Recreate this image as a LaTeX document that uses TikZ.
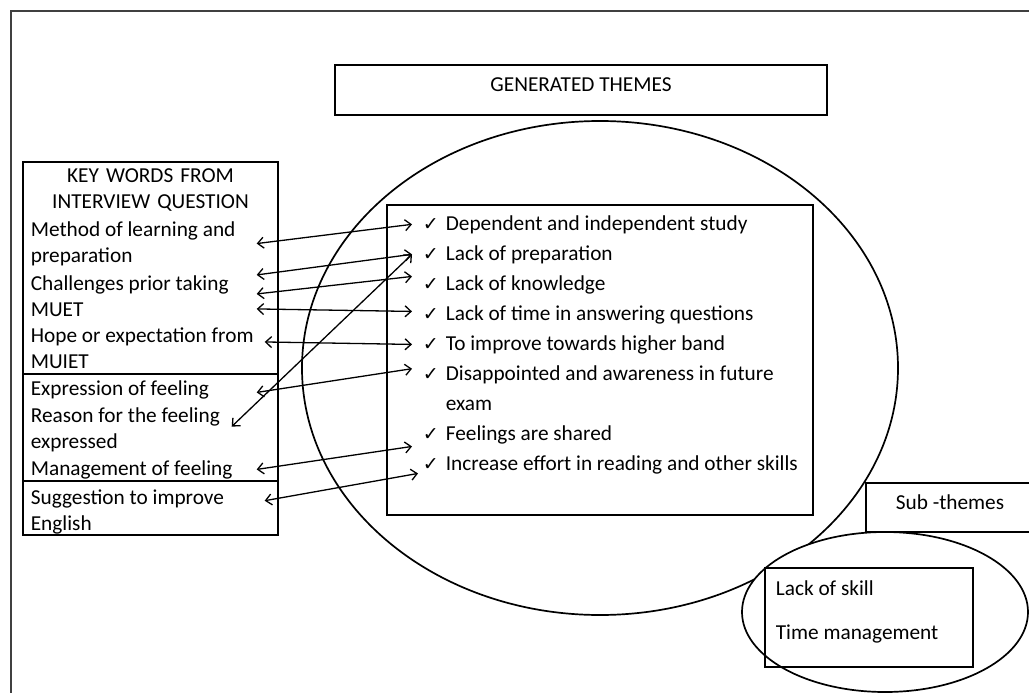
\documentclass[tikz,border=0pt]{standalone}
\usepackage{fontspec}
\setmainfont{Carlito}
\newfontfamily\symfont{DejaVu Sans}
\usepackage{tikz}
\usetikzlibrary{arrows.meta}
\usetikzlibrary{shapes.geometric}

\newcommand{\tick}{\makebox[23pt][l]{\fontsize{19}{19}\selectfont\symfont ✓}}

\begin{document}
\begin{tikzpicture}[x=1pt, y=-1pt, line width=1.7pt,
	font=\fontsize{21.3}{26.5}\selectfont]
	\useasboundingbox (0,0) rectangle (1029,693);
	\draw[line width=1.2pt, black!75] (11,693) |- (1029,11);

	% themes
	\node (genbox) at (581,90) [draw, minimum width=492pt, minimum height=50pt, text depth=11.7pt] {GENERATED THEMES};
	\node (themes) at (600,368) [ellipse, draw, minimum width=596pt, minimum height=494pt] {};
	\node (thbox) at (600,360) [draw, fill=white, minimum width=426pt, minimum height=310pt] {};

	% key words
	\node (kwbox) at (150.5,348.5) [draw, minimum width=255pt, minimum height=373pt] {};
	\draw (23,374) -- (278,374);
	\draw (23,481) -- (278,481);

	% sub-themes
	\draw (1029,483) -| (866,532) -- (1029,532);
	\node (sub) at (950,502) {Sub -themes};
	\node (skills) at (885,612) [ellipse, draw, fill=white, minimum width=286pt, minimum height=160pt] {};
	\node (skillbox) at (869,617.5) [draw, minimum width=208pt, minimum height=99pt] {};
	\node (skill1) at (775,595) [anchor=base west, inner xsep=0pt] {Lack of skill};
	\node (skill2) at (775,639) [anchor=base west, inner xsep=0pt] {Time management};

	\begin{scope}[every node/.style={anchor=base west, inner xsep=0pt,
			text width=225pt, align=flush left}]
		\node (kwHead) at (150.5,182) [anchor=base, text width=255pt, align=center] {KEY WORDS FROM\\INTERVIEW QUESTION};
		\node (kwMethod) at (30,236) {Method of learning and\\preparation};
		\node (kwChal) at (30,290) {Challenges prior taking\\MUET};
		\node (kwHope) at (30,342) {\mbox{Hope or expectation from}\\MUIET};
		\node (kwExpr) at (30,395) {Expression of feeling};
		\node (kwReason) at (30,422) {Reason for the feeling\\expressed};
		\node (kwManage) at (30,475) {Management of feeling};
		\node (kwSugg) at (30,504) {Suggestion to improve\\English};
	\end{scope}

	\begin{scope}[every node/.style={anchor=base west, inner xsep=10pt,
			text width=380pt, align=flush left, font=\fontsize{21.3}{30}\selectfont}]
		\node (thDep) at (412,230) {\tick Dependent and independent study};
		\node (thPrep) at (412,260) {\tick Lack of preparation};
		\node (thKnow) at (412,290) {\tick Lack of knowledge};
		\node (thTime) at (412,320) {\tick Lack of time in answering questions};
		\node (thImp) at (412,350) {\tick To improve towards higher band};
		\node (thDis) at (412,380) {\tick Disappointed and awareness in future\\\hspace*{23pt}exam};
		\node (thFeel) at (412,440) {\tick Feelings are shared};
		\node (thInc) at (412,470) {\tick Increase effort in reading and other skills};
	\end{scope}

	\begin{scope}[>={Straight Barb[length=6pt, width=11pt]},
			every edge/.style={draw=black, line width=1.3pt}]
		\path [<->] (kwMethod.east) edge (thDep.west);
		\path [<->] ([yshift=21pt]kwChal.east) edge (thPrep.west);
		\path [<->] ([yshift=2pt]kwChal.east) edge ([yshift=8pt]thKnow.west);
		\path [<->] ([yshift=-13pt]kwChal.east) edge ([yshift=3pt]thTime.west);
		\path [<->] ([xshift=8pt, yshift=6pt]kwHope.east) edge (thImp.west);
		\path [<->] ([yshift=-3pt]kwExpr.east) edge ([yshift=19pt]thDis.west);
		\path [<->] ([xshift=-25pt, yshift=3pt]kwReason.east) edge (thPrep.west);
		\path [<->] (kwManage.east) edge ([yshift=-12pt]thFeel.west);
		\path [<->] ([xshift=8pt, yshift=11pt]kwSugg.east) edge ([xshift=6pt, yshift=-9pt]thInc.west);
	\end{scope}
\end{tikzpicture}
\end{document}
